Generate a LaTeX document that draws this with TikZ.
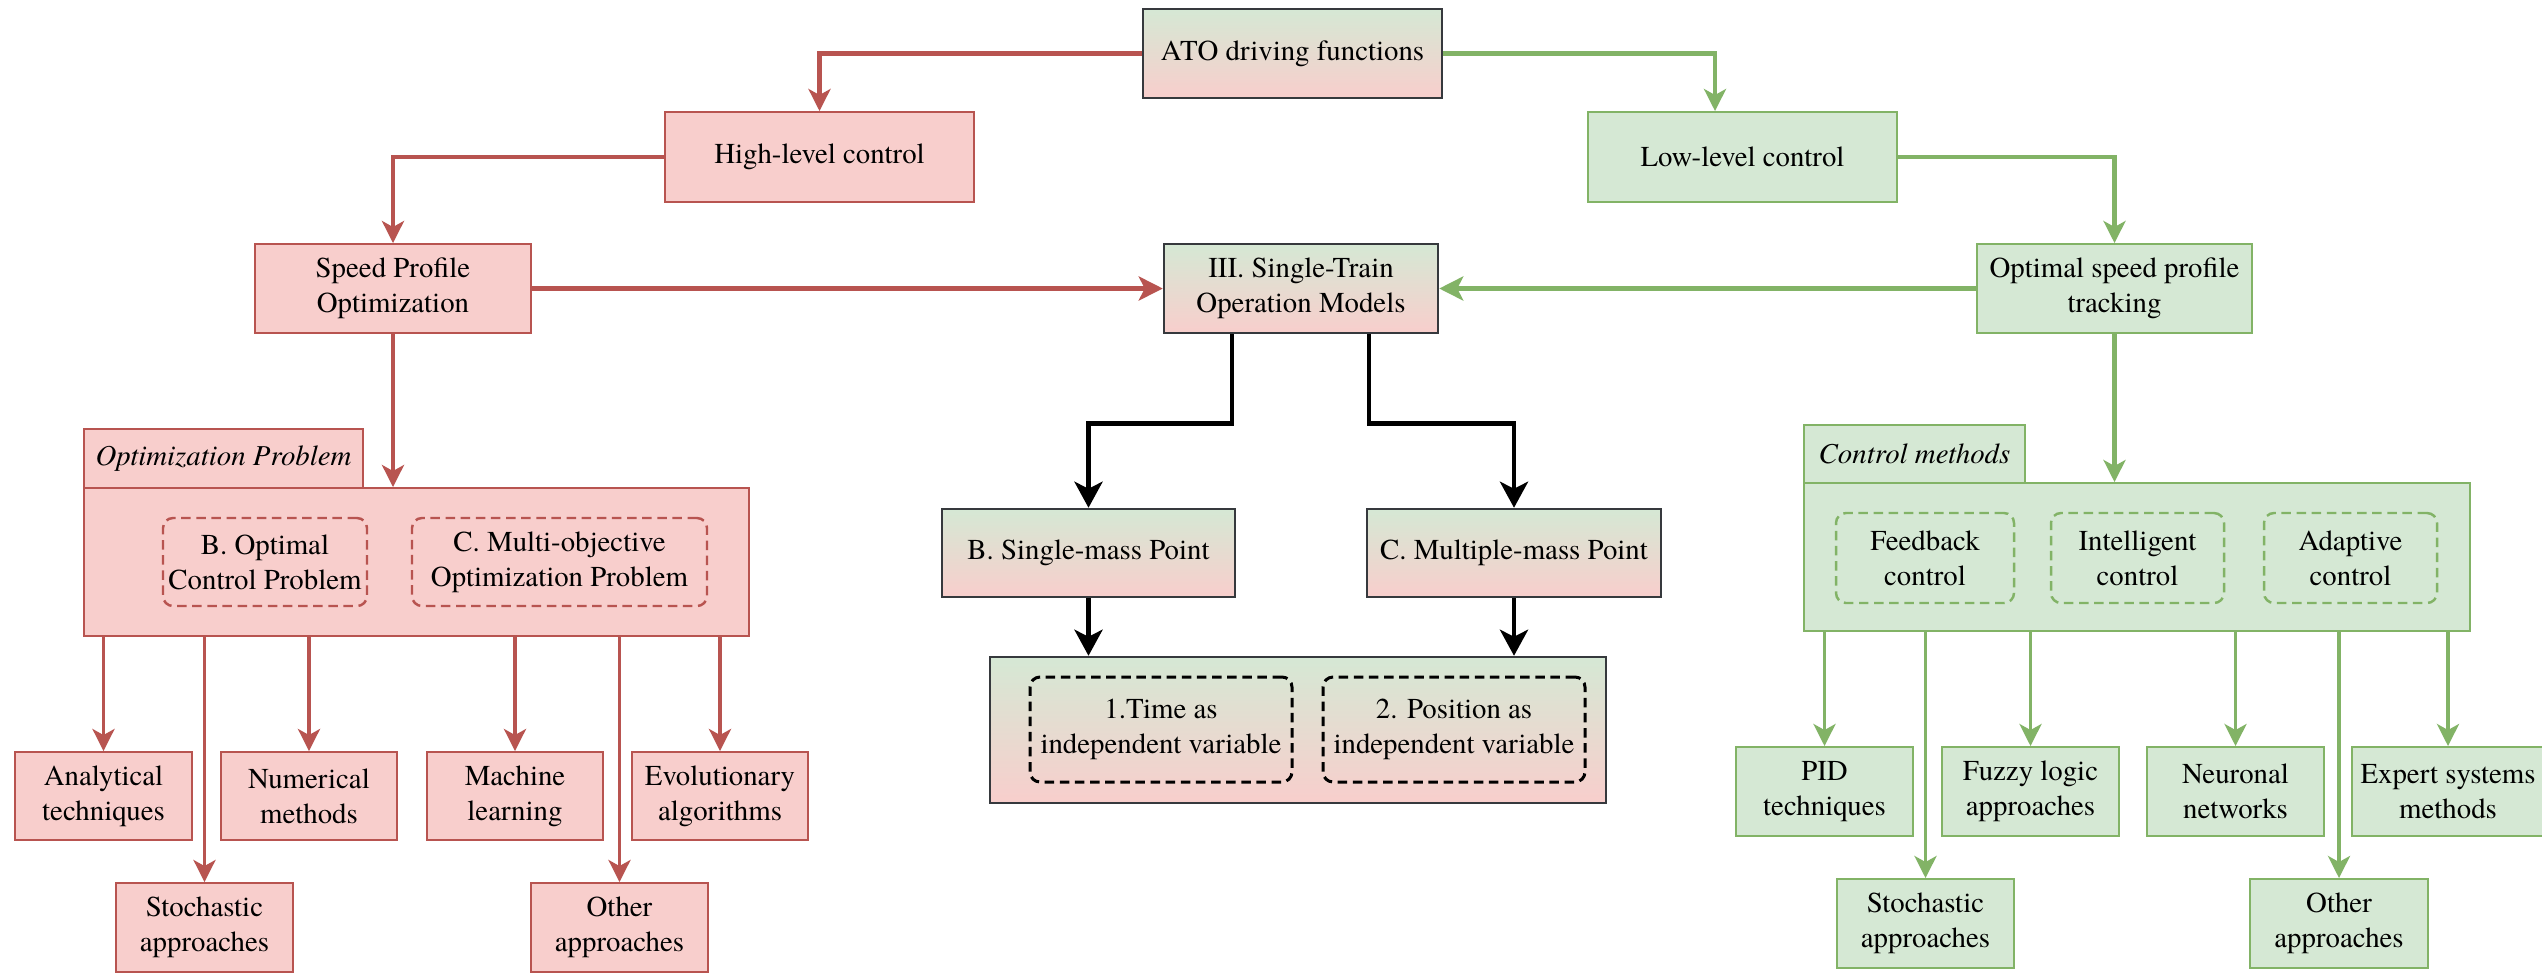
\documentclass[tikz,border=0pt]{standalone}
\usepackage{fontspec}
\setmainfont{TeX Gyre Termes}
\usetikzlibrary{arrows.meta,calc}
\definecolor{redfill}{HTML}{F8CECC}
\definecolor{redline}{HTML}{B85450}
\definecolor{greenfill}{HTML}{D5E8D4}
\definecolor{greenline}{HTML}{82B366}
\definecolor{darkline}{HTML}{36393D}
\newcommand\diagfont{\fontsize{8.2}{10}\selectfont}

\begin{document}
\begin{tikzpicture}[x=0.01cm,y=-0.01cm,
  sz/.style 2 args={minimum width=#1*0.01cm, minimum height=#2*0.01cm},
  base/.style={inner sep=0pt, align=center, font=\diagfont, text=black},
  redbox/.style={base, draw=redline, fill=redfill, line width=0.55pt},
  greenbox/.style={base, draw=greenline, fill=greenfill, line width=0.55pt},
  mixbox/.style={base, draw=darkline, top color=greenfill, bottom color=redfill, line width=0.7pt},
  dashbox/.style={base, dash pattern=on 2.7pt off 1.6pt, rounded corners=0.1cm},
  reddash/.style={dashbox, draw=redline, line width=0.7pt},
  greendash/.style={dashbox, draw=greenline, line width=0.7pt},
  blackdash/.style={dashbox, draw=black, line width=0.85pt},
  tipA/.style={-{Stealth[length=0.22cm, width=0.22cm, inset=0.06cm]}},
  tipB/.style={-{Stealth[length=0.24cm, width=0.24cm, inset=0.06cm]}},
  tipC/.style={-{Stealth[length=0.26cm, width=0.28cm, inset=0.07cm]}},
  redtop/.style={draw=redline, line width=1.2pt, tipA},
  greentop/.style={draw=greenline, line width=1.2pt, tipA},
  redside/.style={draw=redline, line width=1.6pt, tipB},
  greenside/.style={draw=greenline, line width=1.6pt, tipB},
  redleaf/.style={draw=redline, line width=1.05pt, tipA},
  greenleaf/.style={draw=greenline, line width=1.05pt, tipA},
  blackarr/.style={draw=black, line width=1.35pt, tipC},
]
\clip (0,0) rectangle (2542,972);
\fill[white] (0,0) rectangle (2542,972);

% top levels
\node[mixbox, sz={299}{89}] (ato) at (1292.5,53.5) {ATO driving functions};
\node[redbox, sz={309}{90}] (high) at (819.5,157) {High-level control};
\node[greenbox, sz={309}{90}] (low) at (1742.5,157) {Low-level control};
\node[redbox, sz={276}{89}] (speed) at (393,288.5) {Speed Profile\\Optimization};
\node[mixbox, sz={274}{89}] (stm) at (1301,288.5) {III. Single-Train\\Operation Models};
\node[greenbox, sz={275}{89}] (track) at (2114.5,288.5) {Optimal speed profile\\tracking};

% optimization problem container
\node[redbox, sz={665}{148}] (opbox) at (416.5,562) {};
\node[redbox, sz={279}{59}] (optab) at (223.5,458.5) {\itshape Optimization Problem};
\node[reddash, sz={204}{88}] (ocp) at (265,562) {B. Optimal\\Control Problem};
\node[reddash, sz={295}{88}] (moo) at (559.5,562) {C. Multi-objective\\Optimization Problem};

% optimization approaches
\node[redbox, sz={177}{88}] (ana) at (103.5,796) {Analytical\\techniques};
\node[redbox, sz={176}{88}] (num) at (309,796) {Numerical\\methods};
\node[redbox, sz={176}{88}] (mach) at (515,796) {Machine\\learning};
\node[redbox, sz={176}{88}] (evo) at (720,796) {Evolutionary\\algorithms};
\node[redbox, sz={177}{89}] (rsto) at (204.5,927.5) {Stochastic\\approaches};
\node[redbox, sz={177}{89}] (roth) at (619.5,927.5) {Other\\approaches};

% train models
\node[mixbox, sz={293}{88}] (smp) at (1088.5,553) {B. Single-mass Point};
\node[mixbox, sz={294}{88}] (mmp) at (1514,553) {C. Multiple-mass Point};
\node[mixbox, sz={616}{146}] (indep) at (1298,730) {};
\node[blackdash, sz={262}{105}] (tvar) at (1161,729.5) {1.Time as\\independent variable};
\node[blackdash, sz={262}{105}] (pvar) at (1454,729.5) {2. Position as\\independent variable};

% control methods container
\node[greenbox, sz={666}{148}] (cmbox) at (2137,557) {};
\node[greenbox, sz={221}{58}] (cmtab) at (1914.5,454) {\itshape Control methods};
\node[greendash, sz={178}{90}] (fb) at (1925,558) {Feedback\\control};
\node[greendash, sz={173}{90}] (ic) at (2137.5,558) {Intelligent\\control};
\node[greendash, sz={173}{90}] (ac) at (2350.5,558) {Adaptive\\control};

% control approaches
\node[greenbox, sz={177}{89}] (pid) at (1824.5,791.5) {PID\\techniques};
\node[greenbox, sz={177}{89}] (fuz) at (2030.5,791.5) {Fuzzy logic\\approaches};
\node[greenbox, sz={177}{89}] (neu) at (2235.5,791.5) {Neuronal\\networks};
\node[greenbox, sz={192}{89}] (exp) at (2448,791.5) {Expert systems\\methods};
\node[greenbox, sz={177}{89}] (gsto) at (1925.5,923.5) {Stochastic\\approaches};
\node[greenbox, sz={178}{89}] (goth) at (2339,923.5) {Other\\approaches};

% connectors, upper part
\draw[redtop] (ato.west) -| (high.north);
\draw[greentop] (ato.east) -| ($(low.north)+(-27.5,0)$);
\draw[redtop] (high.west) -| (speed.north);
\draw[greentop] (low.east) -| (track.north);
\draw[redside] (speed.east) -- (stm.west);
\draw[greenside] (track.west) -- (stm.east);
\draw[redtop] (speed.south) -- (speed.south |- opbox.north);
\draw[greentop] (track.south) -- (track.south |- cmbox.north);

% connectors, train models
\draw[blackarr] ($(stm.south)+(-69,0)$) -- ++(0,89) -| (smp.north);
\draw[blackarr] ($(stm.south)+(68,0)$) -- ++(0,89) -| (mmp.north);
\draw[blackarr] (smp.south) -- (smp.south |- indep.north);
\draw[blackarr] (mmp.south) -- (mmp.south |- indep.north);

% connectors, approaches
\foreach \n in {ana,num,mach,evo,rsto,roth}
  \draw[redleaf] (opbox.south -| \n.north) -- (\n.north);
\foreach \n in {pid,fuz,neu,exp,gsto,goth}
  \draw[greenleaf] (cmbox.south -| \n.north) -- (\n.north);
\end{tikzpicture}
\end{document}
